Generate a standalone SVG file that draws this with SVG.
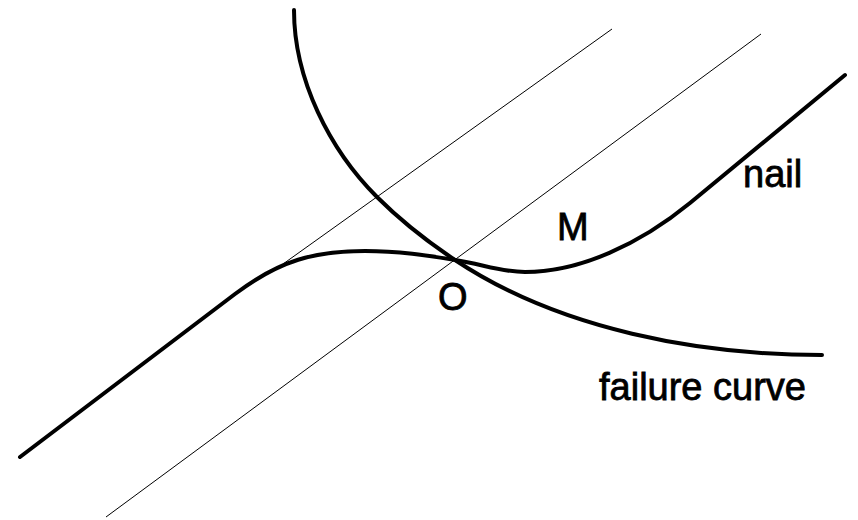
<svg xmlns="http://www.w3.org/2000/svg" width="858" height="520" viewBox="0 0 858 520">
<style>
.thick{fill:none;stroke:#000;stroke-width:4;stroke-linecap:round;stroke-linejoin:round}
.thin{fill:none;stroke:#000;stroke-width:1}
.lbl{font-family:"Liberation Sans",Arial,sans-serif;font-size:38px;fill:#000;stroke:#000;stroke-width:0.8}
</style>
<rect width="858" height="520" fill="#fff"/>
<g id="lines">
<line class="thin" x1="283" y1="264" x2="612" y2="29"/>
<line class="thin" x1="106" y1="517" x2="761" y2="34"/>
</g>
<g id="failure">
<path class="thick" d="M294,10 C294,80 330,150 377,197 C400,220 425,240 455,260 C560,330 700,355 822,355"/>
</g>
<g id="nail">
<path class="thick" d="M20,457 L235,294 C280,260 315,251 365,251 C400,251 430,256 455,260 C482,264 500,272 525,272 C580,272 640,244 690,203 L845,75"/>
</g>
<g id="labels">
<text class="lbl" x="743" y="187">nail</text>
<text class="lbl" x="557" y="240">M</text>
<text class="lbl" x="438" y="310">O</text>
<text class="lbl" x="599" y="400">failure curve</text>
</g>
</svg>
